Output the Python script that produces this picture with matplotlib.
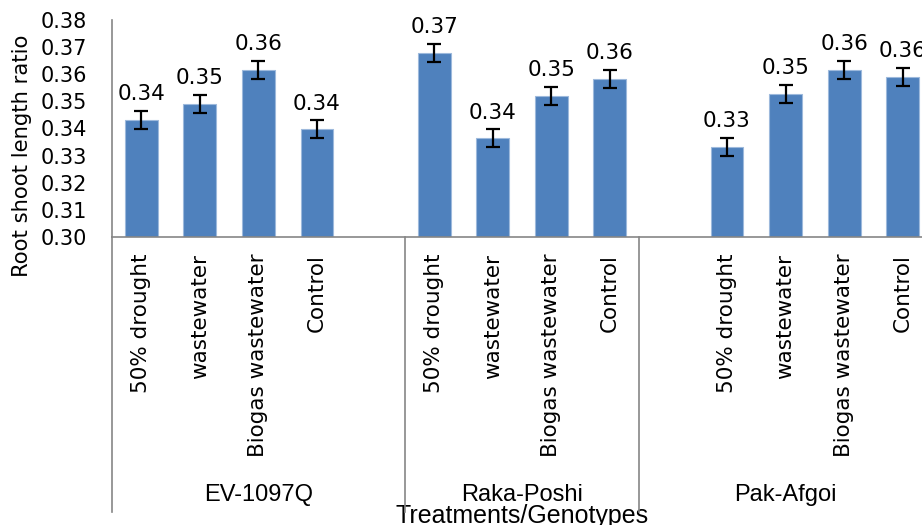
import numpy as np
import matplotlib.pyplot as plt
import matplotlib.transforms as mtransforms

# data
genotypes = ['EV-1097Q', 'Raka-Poshi', 'Pak-Afgoi']
treatments = ['50% drought', 'wastewater', 'Biogas wastewater', 'Control']
ev_1097q = [0.3431, 0.3490, 0.3617, 0.3397]
raka_poshi = [0.3678, 0.3364, 0.3521, 0.3583]
pak_afgoi = [0.3332, 0.3528, 0.3617, 0.3590]
ev_err = [0.0033, 0.0033, 0.0033, 0.0033]
raka_err = [0.0033, 0.0033, 0.0033, 0.0033]
pak_err = [0.0033, 0.0033, 0.0033, 0.0033]
y_ticks = [0.30, 0.31, 0.32, 0.33, 0.34, 0.35, 0.36, 0.37, 0.38]

values = [ev_1097q, raka_poshi, pak_afgoi]
errors = [ev_err, raka_err, pak_err]

# category slots on the axis (the Excel sheet had blank rows between groups)
first_bar_slot = [0, 5, 10]
group_span = [(0, 5), (5, 9), (9, 14)]

bar_color = '#4F81BD'
axis_color = '#868686'
num_font = 'DejaVu Sans'
narrow_font = ['Liberation Sans Narrow', 'Liberation Sans']

fig = plt.figure(figsize=(9.22, 5.25), dpi=100)
ax = fig.add_axes([112 / 922, 288 / 525, 820 / 922, 217 / 525])

xpos = []
xlabels = []
for g in range(len(genotypes)):
    x = np.arange(len(treatments)) + first_bar_slot[g] + 0.5
    ax.bar(x, values[g], width=0.56, color=bar_color, edgecolor='#9DB9DC', linewidth=0.8, zorder=2)
    ax.errorbar(x, values[g], yerr=errors[g], fmt='none', ecolor='black',
                elinewidth=1.6, capsize=5, capthick=1.6, zorder=3)
    for xi, v in zip(x, values[g]):
        ax.annotate('%.2f' % v, (xi, v), xytext=(0, 18.5), textcoords='offset points',
                    ha='center', va='center', fontsize=15.5, family=num_font)
    xpos += list(x)
    xlabels += treatments

ax.set_xlim(0, 14)
ax.set_ylim(0.30, 0.38)
ax.set_yticks(y_ticks)
ax.set_yticklabels(['%.2f' % t for t in y_ticks], fontsize=15, family=num_font)
ax.tick_params(axis='y', length=0, pad=18)

ax.set_xticks(xpos)
ax.set_xticklabels(xlabels, rotation=90, fontsize=15.5, family=num_font)
ax.tick_params(axis='x', length=0, pad=12)

for side in ['top', 'right']:
    ax.spines[side].set_visible(False)
for side in ['left', 'bottom']:
    ax.spines[side].set_color(axis_color)
    ax.spines[side].set_linewidth(1.2)

# multi-level category axis: divider lines and genotype names
trans = mtransforms.blended_transform_factory(ax.transData, ax.transAxes)
line_bottom = -1.267
ax.plot([0, 0], [0, line_bottom], color=axis_color, lw=1.2, transform=trans, clip_on=False)
for (a, b), name in zip(group_span, genotypes):
    if a > 0:
        ax.plot([a, a], [0, line_bottom], color=axis_color, lw=1.2, transform=trans, clip_on=False)
    ax.text((a + b) / 2, -1.189, name, ha='center', va='center', fontsize=17,
            family=narrow_font, transform=trans)

ax.set_xlabel('Treatments/Genotypes', fontsize=18, family=narrow_font, va='center')
ax.xaxis.set_label_coords(0.5, -1.285)
ax.set_ylabel('Root shoot length ratio', fontsize=15.2, family=num_font, va='center')
ax.yaxis.set_label_coords(-0.1098, 0.373)

fig.savefig('out.png', dpi=100)
